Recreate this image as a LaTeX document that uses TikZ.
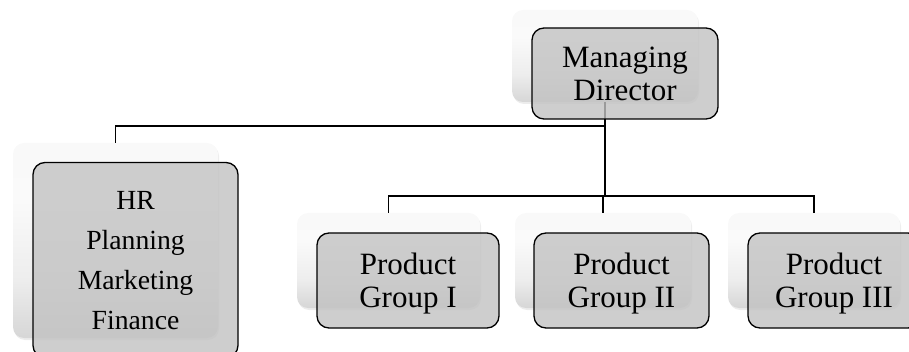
\documentclass[tikz,border=0pt]{standalone}
\usepackage{fontspec}
\setmainfont{Liberation Serif}
\usetikzlibrary{shadows}

% soft white-to-grey gradient of the raised back plates
\pgfdeclareverticalshading{plategrad}{100bp}{%
  color(0bp)=(black!34); color(15bp)=(black!22); color(40bp)=(black!7);
  color(60bp)=(black!2); color(100bp)=(black!3)}

\tikzset{
  plate/.style={rounded corners=11pt, inner sep=0pt, shading=plategrad,
    drop shadow={opacity=0.15, shadow xshift=1pt, shadow yshift=-2pt}},
  card/.style={rounded corners=12pt, inner sep=0pt, draw=black, line width=1.3pt,
    fill=black!24, fill opacity=0.8, text opacity=1, align=center, text depth=0pt,
    font=\fontsize{31}{33}\selectfont},
  link/.style={draw=black, line width=1.5pt},
}

\begin{document}
\begin{tikzpicture}[x=1pt, y=-1pt]
  \useasboundingbox (0,0) rectangle (909,352);
  \clip (0,0) rectangle (909,352);

  % back plates
  \node[plate, minimum width=186pt, minimum height=92pt]  (mdB)  at (605,56)    {};
  \node[plate, minimum width=205pt, minimum height=195pt] (hrB)  at (115.5,240.5) {};
  \node[plate, minimum width=183pt, minimum height=95pt]  (pg1B) at (388.5,260.5) {};
  \node[plate, minimum width=176pt, minimum height=95pt]  (pg2B) at (603,260.5) {};
  \node[plate, minimum width=172pt, minimum height=95pt]  (pg3B) at (814,260.5) {};

  % connectors between the plates
  \coordinate (busA) at (605,126);
  \coordinate (busB) at (605,196);
  \draw[link] (mdB.south) -- (busB);
  \draw[link] (busA) -| (hrB.north);
  \draw[link] (pg1B.north) |- (busB) -| (pg3B.north);
  \draw[link] (busB -| pg2B.north) -- (pg2B.north);

  % front cards with labels
  \node[card, minimum width=186pt, minimum height=91pt] (md) at (625,73.5)
    {Managing\\Director};
  \node[card, minimum width=205pt, minimum height=195pt,
        font=\fontsize{27.7}{40}\selectfont] (hr) at (135.5,260)
    {HR\\Planning\\Marketing\\Finance};
  \node[card, minimum width=182pt, minimum height=95pt] (pg1) at (408,280.5)
    {Product\\Group I};
  \node[card, minimum width=175pt, minimum height=95pt] (pg2) at (621.5,280.5)
    {Product\\Group II};
  \node[card, minimum width=172pt, minimum height=95pt] (pg3) at (834,280.5)
    {Product\\Group III};
\end{tikzpicture}
\end{document}
